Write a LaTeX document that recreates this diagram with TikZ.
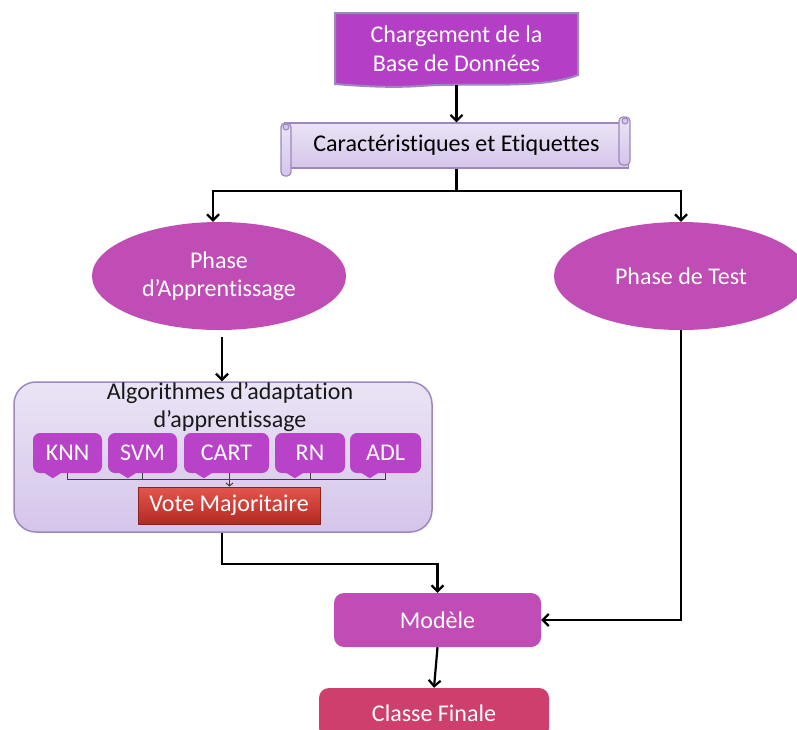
\documentclass[tikz,border=0pt]{standalone}
\usepackage{fontspec}
\setmainfont{Carlito}[Ligatures=CommonOff]
\usepackage{tikz}
\usetikzlibrary{shapes.geometric, positioning, arrows.meta}

\definecolor{docpurple}{HTML}{B43FC6}
\definecolor{phasepurple}{HTML}{BF4DB5}
\definecolor{algopurple}{HTML}{B843C8}
\definecolor{lavtop}{HTML}{EBE4F5}
\definecolor{lavbot}{HTML}{D4C5EA}
\definecolor{lavline}{HTML}{9C88BE}
\definecolor{votetop}{HTML}{E4554C}
\definecolor{votebot}{HTML}{B22A24}
\definecolor{finalred}{HTML}{CF3F6D}

\tikzset{
  every node/.style={font=\fontsize{24}{28.5}\selectfont},
  link/.style={line width=2.2pt, black},
  arr/.style={link, -{Straight Barb[length=6pt, width=12pt]}},
  phase/.style={ellipse, fill=phasepurple, text=white, minimum width=254pt, minimum height=108pt, align=center},
  scroll/.style={rectangle, draw=lavline, line width=1.2pt, top color=lavtop, bottom color=lavbot},
  algobox/.style={rectangle, rounded corners=7pt, fill=algopurple, text=white, minimum height=40pt, inner sep=0pt},
  bracket/.style={line width=1pt, black!75},
}

\begin{document}
\begin{tikzpicture}[x=1pt, y=-1pt]
  \clip (0,0) rectangle (797,729);
  \fill[white] (0,0) rectangle (797,729);

  % loading step, document shape
  \draw[line width=2pt, draw=lavline, fill=docpurple]
    (335,13) -- (578,13) -- (578,75)
    .. controls (540,90) and (470,82) .. (420,86)
    .. controls (390,88) and (360,86) .. (335,84) -- cycle;
  \node[minimum width=243pt, minimum height=72pt, text=white, align=center] (charge) at (456.5,49)
    {Chargement de la\\Base de Données};

  % features, scroll shape
  \node[scroll, minimum width=344pt, minimum height=45pt] (carac) at (456.5,145.5)
    {Caractéristiques et Etiquettes};
  \draw[draw=lavline, line width=1.2pt, top color=lavtop, bottom color=lavbot, rounded corners=4pt]
    (281,123) rectangle (291,176);
  \draw[draw=lavline, line width=1pt, fill=lavbot] (286,127) circle (3);
  \draw[draw=lavline, line width=1.2pt, top color=lavtop, bottom color=lavbot, rounded corners=4pt]
    (619,117) rectangle (630,165);
  \draw[draw=lavline, line width=1pt, fill=lavbot] (625,121) circle (3);

  % the two phases
  \node[phase] (learn) at (219,276) {Phase\\d’Apprentissage};
  \node[phase] (test) at (681,276) {Phase de Test};

  % learning algorithms
  \node[rectangle, rounded corners=22pt, draw=lavline, line width=1.5pt, top color=lavtop, bottom color=lavbot,
        minimum width=418pt, minimum height=150pt] (algo) at (223,457) {};
  \node[align=center, text=black!90] (algotitle) at (230,407) {Algorithmes d’adaptation\\d’apprentissage};

  \foreach \nm/\xa/\xb in {KNN/33/102, SVM/108/177, CART/184/269, RN/275/345, ADL/350/421}{
    \node[algobox, minimum width=\xb pt-\xa pt] (\nm) at ({(\xa+\xb)/2},453) {\nm};
    \fill[algopurple] ([xshift=12pt]\nm.south west) -- ([xshift=28pt]\nm.south west)
      -- ([xshift=20pt, yshift=-5pt]\nm.south west) -- cycle;
  }

  \node[rectangle, draw=votebot!80!black, line width=0.8pt, top color=votetop, bottom color=votebot,
        text=white, minimum width=182pt, minimum height=37pt] (vote) at (229,505.5) {Vote Majoritaire};

  \coordinate (bar) at (0,479);
  \draw[bracket] (KNN.south) -- (KNN.south |- bar) -- (ADL.south |- bar) -- (ADL.south);
  \draw[bracket] (SVM.south) -- (SVM.south |- bar);
  \draw[bracket] (RN.south) -- (RN.south |- bar);
  \draw[bracket, -{Straight Barb[length=3pt, width=7pt]}] ([xshift=3pt]CART.south) -- ([xshift=3pt]CART.south |- vote.north);

  % model and final class
  \node[rectangle, rounded corners=10pt, fill=phasepurple, text=white,
        minimum width=207pt, minimum height=54pt] (model) at (437.5,620) {Modèle};
  \node[rectangle, rounded corners=10pt, fill=finalred, text=white,
        minimum width=230pt, minimum height=50pt] (final) at (434,713) {Classe Finale};

  % connectors
  \draw[arr] (charge.south) -- (carac.north);
  \coordinate (split) at ([yshift=-22pt]carac.south);
  \draw[link] (carac.south) -- (split);
  \draw[arr] (split) -| ([xshift=-6pt]learn.north);
  \draw[arr] (split) -| (test.north);
  \draw[arr, shorten <=7pt] ([xshift=3pt]learn.south) -- ([xshift=3pt]learn.south |- algo.north);
  \draw[arr] ([xshift=-1pt]algo.south) -- ++(0,31) -| (model.north);
  \draw[arr] (test.south) |- (model.east);
  \draw[arr] (model.south) -- (final.north);
\end{tikzpicture}
\end{document}
